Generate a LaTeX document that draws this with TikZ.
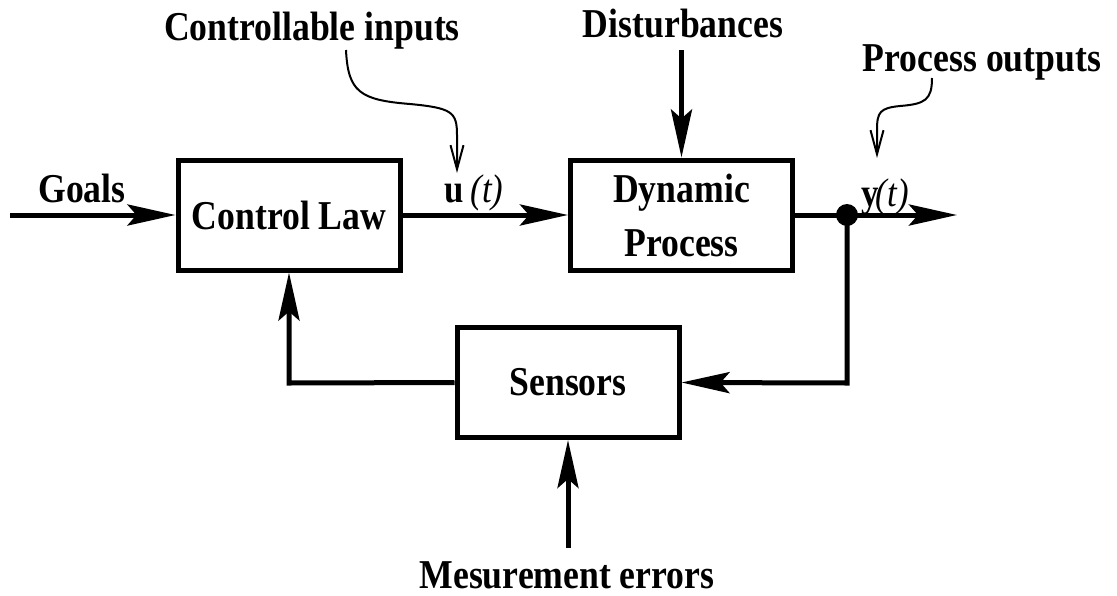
\documentclass[tikz,border=0pt]{standalone}
\usepackage{fontspec}
\setmainfont{Liberation Serif}[FakeStretch=0.87]
\usetikzlibrary{arrows.meta}
\begin{document}
\begin{tikzpicture}[x=1pt,y=-1pt,
  blk/.style={draw, line width=5pt, minimum width=222pt, minimum height=110pt, inner sep=0pt,
    font=\fontsize{41}{54}\selectfont\bfseries, align=center},
  lbl/.style={inner sep=0pt, anchor=base, font=\fontsize{41}{48}\selectfont\bfseries},
  mlbl/.style={inner sep=0pt, anchor=base, font=\fontsize{40}{48}\selectfont},
  thick line/.style={line width=5pt},
  arr/.style={line width=5pt, -{Stealth[length=48pt,width=21pt,inset=9pt]}},
  thinarr/.style={line width=2pt, -{Straight Barb[length=24pt,width=13pt]}},
  dot/.style={circle, fill, minimum size=22pt, inner sep=0pt}]
\useasboundingbox (0,0) rectangle (1117,595);
% blocks
\node[blk] (cl) at (289,215) {Control Law};
\node[blk] (dp) at (681.5,215) {Dynamic\\Process};
\node[blk] (se) at (568,382.5) {Sensors};
\node[dot] (dt) at (847,215) {};
% labels
\node[lbl] (goals) at (82,202) {Goals};
\node[lbl] (ci) at (312,40) {Controllable inputs};
\node[lbl] (dist) at (683,37) {Disturbances};
\node[lbl] (po) at (982,71) {Process outputs};
\node[lbl] (meas) at (567,588) {Mesurement errors};
\node[mlbl] (ut) at (474,202) {\textbf{u}\,\textit{(t)}};
\node[mlbl] (yt) at (885,206) {\textbf{y}\kern-3pt\textit{(t)}};
% coordinates
\coordinate (gs) at (10,215);
\coordinate (ye) at (957,215);
\coordinate (c1) at (847,383);
\coordinate (c2) at (289,383);
\coordinate (db) at (681.5,50);
\coordinate (me) at (568,548);
\coordinate (s1) at (346,50);
\coordinate (e1) at (457,173);
\coordinate (s2) at (932,78);
\coordinate (e2) at (877,158);
% connectors
\draw[arr] (gs) -- (cl.west);
\draw[arr] (cl.east) -- (dp.west);
\draw[thick line] (dp.east) -- (dt.center);
\draw[arr] (dt.center) -- (ye);
\draw[arr] (dt.center) -- (c1) -- (se.east);
\draw[arr] (se.west) -- (c2) -- (cl.south);
\draw[arr] (db) -- (dp.north);
\draw[arr] (me) -- (se.south);
\draw[thinarr] (s1) .. controls (348,92) and (360,100) .. (410,104) .. controls (452,108) and (457,112) .. (457,135) -- (e1);
\draw[thinarr] (s2) .. controls (932,100) and (925,104) .. (900,106) .. controls (880,108) and (877,112) .. (877,130) -- (e2);
\end{tikzpicture}
\end{document}
